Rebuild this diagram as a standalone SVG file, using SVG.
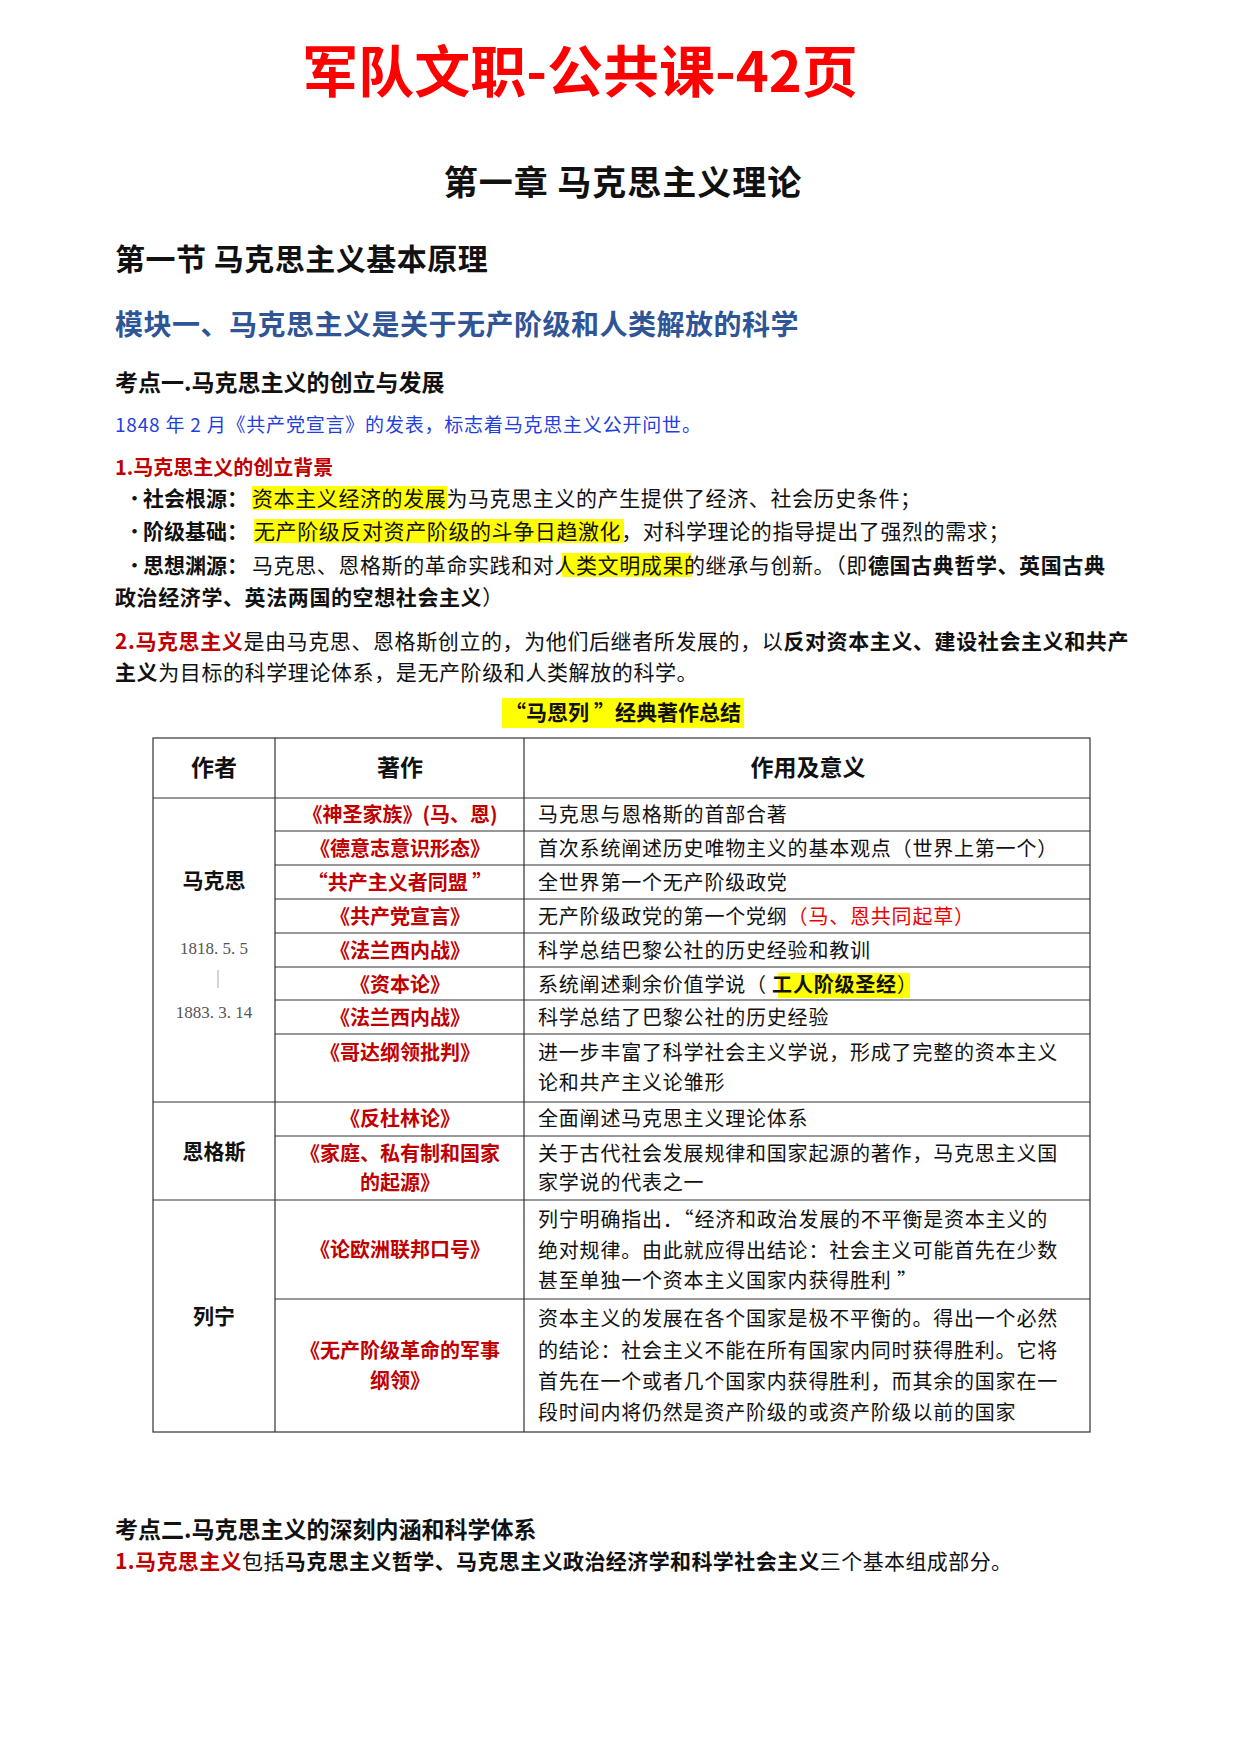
<svg xmlns="http://www.w3.org/2000/svg" width="1240" height="1754" viewBox="0 0 1240 1754">
<style>
text{font-family:"Noto Sans CJK SC","Noto Sans",sans-serif;fill:#111}
.b{font-weight:bold}
.body{font-size:21px}
.red{fill:#C00000}
.cell{font-size:20px}
.t{font-size:20px;font-weight:bold;fill:#C00000}
.hl{fill:#FFFF00}
.ln{stroke:#333;stroke-width:1.2;fill:none}
</style>
<rect width="1240" height="1754" fill="#fff"/>
<text x="580" y="92" text-anchor="middle" font-size="56" class="b" style="fill:#FF0000">军队文职-公共课-42页</text>
<text x="623" y="195" text-anchor="middle" font-size="34" class="b" style="letter-spacing:1px">第一章  马克思主义理论</text>
<text x="115" y="270" font-size="30" class="b" style="letter-spacing:0.5px">第一节  马克思主义基本原理</text>
<text x="115" y="335" font-size="28" class="b" style="fill:#2F5597;letter-spacing:0.5px">模块一、马克思主义是关于无产阶级和人类解放的科学</text>
<text x="115" y="391" font-size="23" class="b">考点一.马克思主义的创立与发展</text>
<text x="115" y="432" font-size="19" style="fill:#1F3FE0;letter-spacing:0.8px">1848 年 2 月《共产党宣言》的发表，标志着马克思主义公开问世。</text>
<text x="115" y="475" font-size="20" class="b red">1.马克思主义的创立背景</text>
<rect class="hl" x="252" y="486" width="195" height="24"/>
<rect class="hl" x="254" y="519" width="370" height="24"/>
<rect class="hl" x="562" y="553" width="130" height="24"/>
<g class="body">
<text x="124" y="506">•</text><text x="143" y="506" class="b">社会根源：</text><text x="252" y="506" style="letter-spacing:0.6px">资本主义经济的发展为马克思主义的产生提供了经济、社会历史条件；</text>
<text x="124" y="539">•</text><text x="143" y="539" class="b">阶级基础：</text><text x="254" y="539" style="letter-spacing:0.6px">无产阶级反对资产阶级的斗争日趋激化，对科学理论的指导提出了强烈的需求；</text>
<text x="124" y="573">•</text><text x="143" y="573" class="b">思想渊源：</text><text x="252" y="573" style="letter-spacing:0.6px">马克思、恩格斯的革命实践和对人类文明成果的继承与创新。（即<tspan class="b">德国古典哲学、英国古典</tspan></text>
<text x="115" y="605" style="letter-spacing:0.6px"><tspan class="b">政治经济学、英法两国的空想社会主义</tspan>）</text>
<text x="115" y="649" style="letter-spacing:0.6px"><tspan class="b red">2.马克思主义</tspan>是由马克思、恩格斯创立的，为他们后继者所发展的，以<tspan class="b">反对资本主义、建设社会主义和共产</tspan></text>
<text x="115" y="680" style="letter-spacing:0.6px"><tspan class="b">主义</tspan>为目标的科学理论体系，是无产阶级和人类解放的科学。</text>
</g>
<rect class="hl" x="502" y="698" width="242" height="30"/>
<text x="623" y="720" text-anchor="middle" font-size="21" class="b">“马恩列 ”经典著作总结</text>
<g id="table" transform="translate(0,-6)">
<rect class="ln" x="153" y="744" width="937" height="694"/>
<line class="ln" x1="275" y1="744" x2="275" y2="1438"/>
<line class="ln" x1="524" y1="744" x2="524" y2="1438"/>
<line class="ln" x1="153" y1="804" x2="1090" y2="804"/>
<g class="ln">
<line x1="275" y1="837" x2="1090" y2="837"/><line x1="275" y1="871" x2="1090" y2="871"/>
<line x1="275" y1="905" x2="1090" y2="905"/><line x1="275" y1="939" x2="1090" y2="939"/>
<line x1="275" y1="973" x2="1090" y2="973"/><line x1="275" y1="1006" x2="1090" y2="1006"/>
<line x1="275" y1="1040" x2="1090" y2="1040"/>
<line x1="153" y1="1108" x2="1090" y2="1108"/>
<line x1="275" y1="1142" x2="1090" y2="1142"/>
<line x1="153" y1="1206" x2="1090" y2="1206"/>
<line x1="275" y1="1305" x2="1090" y2="1305"/>
</g>
<text x="214" y="782" text-anchor="middle" font-size="23" class="b">作者</text>
<text x="400" y="782" text-anchor="middle" font-size="23" class="b">著作</text>
<text x="808" y="782" text-anchor="middle" font-size="23" class="b">作用及意义</text>
<text x="214" y="894" text-anchor="middle" font-size="21" class="b">马克思</text>
<text x="214" y="960" text-anchor="middle" font-size="17" style="font-family:'Liberation Serif',serif;fill:#555">1818. 5. 5</text>
<line x1="218" y1="976" x2="218" y2="994" stroke="#aaa"/>
<text x="214" y="1024" text-anchor="middle" font-size="17" style="font-family:'Liberation Serif',serif;fill:#555">1883. 3. 14</text>
<text x="214" y="1165" text-anchor="middle" font-size="21" class="b">恩格斯</text>
<text x="214" y="1330" text-anchor="middle" font-size="21" class="b">列宁</text>
<g text-anchor="middle">
<text class="t" x="400" y="828">《神圣家族》(马、恩)</text>
<text class="t" x="400" y="862">《德意志意识形态》</text>
<text class="t" x="400" y="896">“共产主义者同盟 ”</text>
<text class="t" x="400" y="930">《共产党宣言》</text>
<text class="t" x="400" y="964">《法兰西内战》</text>
<text class="t" x="400" y="998">《资本论》</text>
<text class="t" x="400" y="1031">《法兰西内战》</text>
<text class="t" x="400" y="1066">《哥达纲领批判》</text>
<text class="t" x="400" y="1132">《反杜林论》</text>
<text class="t" x="400" y="1167">《家庭、私有制和国家</text>
<text class="t" x="400" y="1196">的起源》</text>
<text class="t" x="400" y="1263">《论欧洲联邦口号》</text>
<text class="t" x="400" y="1364">《无产阶级革命的军事</text>
<text class="t" x="400" y="1394">纲领》</text>
</g>
<rect class="hl" x="778" y="979" width="132" height="25"/>
<g class="cell" style="letter-spacing:0.8px">
<text x="538" y="828">马克思与恩格斯的首部合著</text>
<text x="538" y="862">首次系统阐述历史唯物主义的基本观点（世界上第一个）</text>
<text x="538" y="896">全世界第一个无产阶级政党</text>
<text x="538" y="930">无产阶级政党的第一个党纲<tspan style="fill:#E00">（马、恩共同起草）</tspan></text>
<text x="538" y="964">科学总结巴黎公社的历史经验和教训</text>
<text x="538" y="998">系统阐述剩余价值学说（ <tspan class="b">工人阶级圣经</tspan>）</text>
<text x="538" y="1031">科学总结了巴黎公社的历史经验</text>
<text x="538" y="1066">进一步丰富了科学社会主义学说，形成了完整的资本主义</text>
<text x="538" y="1096">论和共产主义论雏形</text>
<text x="538" y="1132">全面阐述马克思主义理论体系</text>
<text x="538" y="1167">关于古代社会发展规律和国家起源的著作，马克思主义国</text>
<text x="538" y="1196">家学说的代表之一</text>
<text x="538" y="1233">列宁明确指出．“经济和政治发展的不平衡是资本主义的</text>
<text x="538" y="1264">绝对规律。由此就应得出结论：社会主义可能首先在少数</text>
<text x="538" y="1294">甚至单独一个资本主义国家内获得胜利 ”</text>
<text x="538" y="1332">资本主义的发展在各个国家是极不平衡的。得出一个必然</text>
<text x="538" y="1364">的结论：社会主义不能在所有国家内同时获得胜利。它将</text>
<text x="538" y="1395">首先在一个或者几个国家内获得胜利，而其余的国家在一</text>
<text x="538" y="1426">段时间内将仍然是资产阶级的或资产阶级以前的国家</text>
</g>
</g>
<text x="115" y="1538" font-size="23" class="b">考点二.马克思主义的深刻内涵和科学体系</text>
<text x="115" y="1569" class="body" style="letter-spacing:0.4px"><tspan class="b red">1.马克思主义</tspan>包括<tspan class="b">马克思主义哲学、马克思主义政治经济学和科学社会主义</tspan>三个基本组成部分。</text>
</svg>
